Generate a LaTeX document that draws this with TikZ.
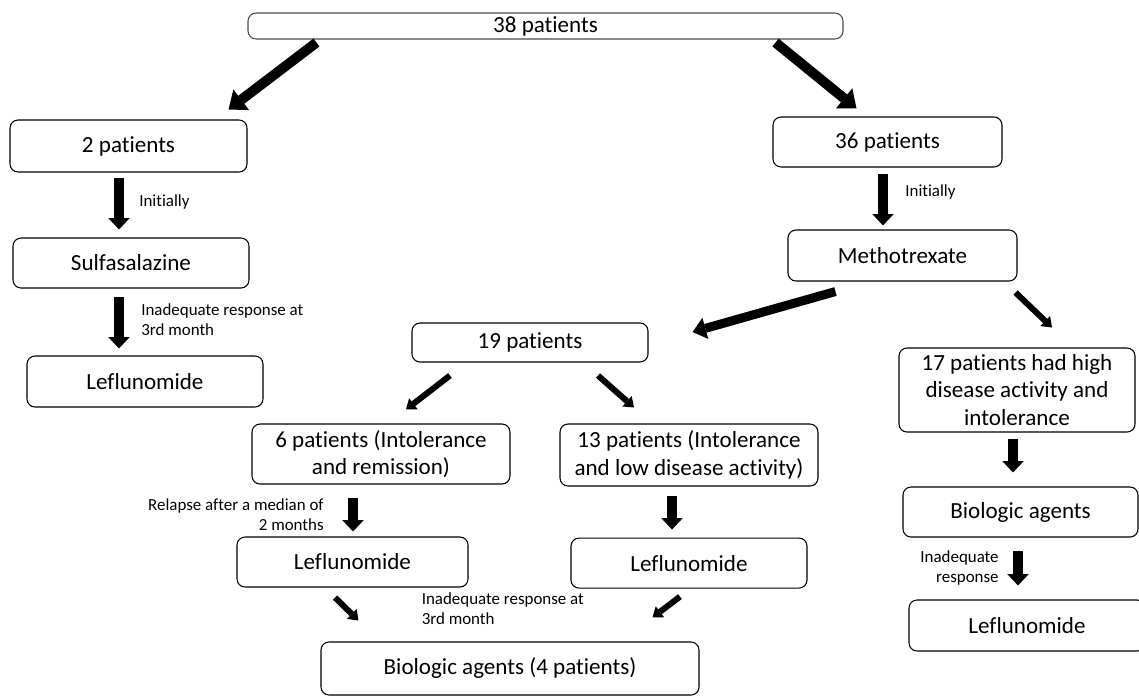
\documentclass[tikz,border=0pt]{standalone}
\usepackage{fontspec}
\setmainfont{Carlito}[Ligatures=NoCommon]
\usepackage{tikz}
\usetikzlibrary{arrows.meta, positioning, calc}
\newlength{\pxu}
\setlength{\pxu}{0.75pt}

\begin{document}
\begin{tikzpicture}[
		x=0.75pt, y=-0.75pt,
		%--- Node Styles ---------------------------------------------------
		box/.style={
			rectangle,
			rounded corners=6pt,
			draw=black,
			line width=0.8pt,
			fill=white,
			align=center,
			inner sep=1.5pt,
			font=\fontsize{17.3}{20.6}\selectfont
		},
		%--- Arrow Styles --------------------------------------------------
		bigarr/.style={
			-{Triangle[width=19.5pt,length=12pt,line width=0pt]},
			line width=7.5pt
		},
		vertarr/.style={
			-{Triangle[width=16pt,length=8.5pt,line width=0pt]},
			line width=8pt
		},
		midarr/.style={
			-{Triangle[width=16.5pt,length=10pt,line width=0pt]},
			line width=6.75pt
		},
		smallarr/.style={
			-{Triangle[width=10.5pt,length=7pt,line width=0pt]},
			line width=4.5pt
		},
		%--- Label Style ---------------------------------------------------
		lbl/.style={
			inner sep=0pt,
			align=left,
			font=\fontsize{12.7}{15}\selectfont
		}
		]
		
		\useasboundingbox (0,0) rectangle (1139,697);
		
		%--- Top Node ----------------------------------------------------------
		
		\node[box, draw=black!70, minimum width=595\pxu, minimum height=26\pxu] (total)
		at (545.5,26) {38 patients};
		
		%--- Left Branch -------------------------------------------------------
		
		\node[box, minimum width=237\pxu, minimum height=52\pxu] (two)
		at (128.5,146) {2 patients};
		
		\node[box, minimum width=236\pxu, minimum height=50\pxu] (sulfa)
		at (131,263) {Sulfasalazine};
		
		\node[box, minimum width=236\pxu, minimum height=51\pxu] (leflA)
		at (145,381.5) {Leflunomide};
		
		%--- Right Branch ------------------------------------------------------
		
		\node[box, minimum width=229\pxu, minimum height=50\pxu] (thirtysix)
		at (887.5,142) {36 patients};
		
		\node[box, minimum width=229\pxu, minimum height=51\pxu] (metho)
		at (902.5,255.5) {Methotrexate};
		
		\node[box, minimum width=236\pxu, minimum height=39\pxu] (nineteen)
		at (530,342.5) {19 patients};
		
		\node[box, minimum width=258\pxu, minimum height=60\pxu] (six)
		at (381,454) {6 patients (Intolerance\\and remission)};
		
		\node[box, minimum width=258\pxu, minimum height=62\pxu] (thirteen)
		at (689,455) {13 patients (Intolerance\\and low disease activity)};
		
		\node[box, minimum width=231\pxu, minimum height=50\pxu] (leflB)
		at (352.5,562) {Leflunomide};
		
		\node[box, minimum width=236\pxu, minimum height=50\pxu,
		below=51\pxu of thirteen] (leflC) {Leflunomide};
		
		\node[box, minimum width=378\pxu, minimum height=53\pxu] (bioA)
		at (510,668.5) {Biologic agents (4 patients)};
		
		%--- High Activity Branch ----------------------------------------------
		
		\node[box, minimum width=236\pxu, minimum height=84\pxu] (seventeen)
		at (1017,390) {17 patients had high\\disease activity and\\intolerance};
		
		\node[box, minimum width=235\pxu, minimum height=50\pxu] (bioB)
		at (1020.5,512) {Biologic agents};
		
		\node[box, minimum width=236\pxu, minimum height=51\pxu] (leflD)
		at (1027,625.5) {Leflunomide};
		
		%--- Arrows from the Top -----------------------------------------------
		
		\draw[bigarr] ($(total.south west)+(69,3)$) -- ($(two.north east)+(-19,-10)$);
		\draw[bigarr] ($(total.south east)+(-68,3)$) -- ($(thirtysix.north)+(-31,-8)$);
		
		%--- Left Column Arrows ------------------------------------------------
		
		\draw[vertarr] ($(two.south)+(-9.5,5)$) -- ($(sulfa.north)+(-12,-8)$)
		node[lbl, midway, anchor=west, xshift=15\pxu, yshift=2\pxu] (lblInitA) {Initially};
		
		\draw[vertarr] ($(sulfa.south)+(-12,8)$) -- ($(leflA.north)+(-26,-7)$)
		node[lbl, midway, anchor=west, xshift=17\pxu, yshift=3\pxu] (lblInadA)
		{Inadequate response at\\3rd month};
		
		%--- Right Column Arrows -----------------------------------------------
		
		\draw[vertarr] ($(thirtysix.south)+(-4.5,6)$) -- ($(metho.north)+(-19.5,-4)$)
		node[lbl, midway, anchor=west, xshift=17\pxu, yshift=8\pxu] (lblInitB) {Initially};
		
		\draw[midarr] ($(metho.south west)+(48,10)$) -- ($(nineteen.east)+(44,-10.5)$);
		\draw[smallarr] ($(metho.south east)+(-2,11)$) -- ($(seventeen.north)+(35,-20)$);
		
		\draw[smallarr] ($(nineteen.south)+(-80,13)$) -- ($(six.north)+(25,-14)$);
		\draw[smallarr] ($(nineteen.south)+(68,13)$) -- ($(thirteen.north)+(-55,-16)$);
		
		\draw[vertarr] ($(six.south)+(-28,13)$) -- ($(leflB.north)+(0.5,-5)$)
		node[lbl, midway, anchor=east, xshift=-24\pxu, align=right] (lblRelapse)
		{Relapse after a median of\\2 months};
		
		\draw[vertarr] ($(thirteen.south)+(-17,9)$) -- ($(leflC.north)+(-17,-8)$);
		
		\draw[smallarr] ($(leflB.south)+(-17.5,10)$) -- ($(bioA.north west)+(38,-21)$);
		\draw[smallarr] ($(leflC.south)+(-9,8)$) -- ($(bioA.north east)+(-47,-24)$);
		
		\node[lbl, anchor=west] (lblInadB) at ($(leflB.south east)+(-47,21)$)
		{Inadequate response at\\3rd month};
		
		%--- High Activity Arrows ----------------------------------------------
		
		\draw[vertarr] ($(seventeen.south)+(-4,6)$) -- ($(bioB.north)+(-7.5,-14)$);
		
		\draw[vertarr] ($(bioB.south)+(-2.5,13)$) -- ($(leflD.north)+(-9,-14)$)
		node[lbl, midway, anchor=east, xshift=-14\pxu, align=right] (lblInadC)
		{Inadequate\\response};
		
	\end{tikzpicture}
\end{document}
